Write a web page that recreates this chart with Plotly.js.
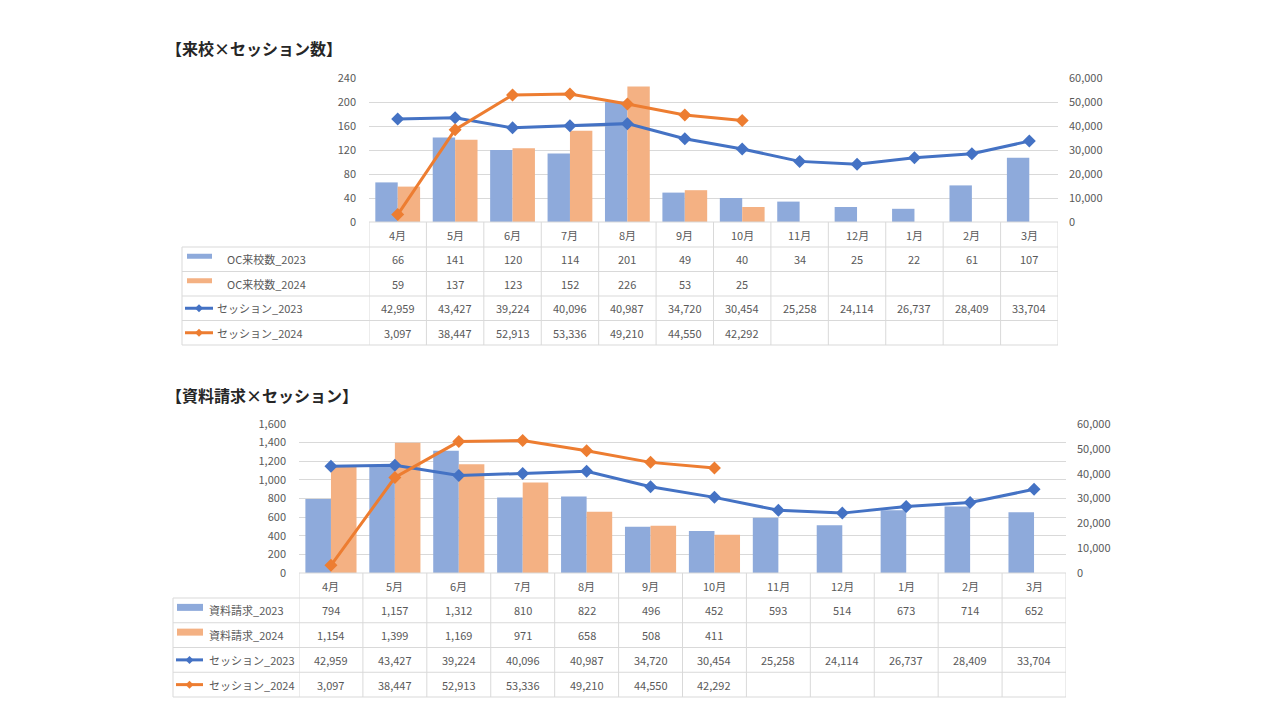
<!DOCTYPE html>
<html>
<head>
<meta charset="utf-8">
<script src="https://cdn.plot.ly/plotly-3.0.1.min.js"></script>
<style>html,body{margin:0;padding:0;background:#fff;}#chart{width:1280px;height:720px;}</style>
</head>
<body>
<div id="chart"></div>
<script>
// ---- data ----
const months = ['4月','5月','6月','7月','8月','9月','10月','11月','12月','1月','2月','3月'];
const oc2023 = [66,141,120,114,201,49,40,34,25,22,61,107];
const oc2024 = [59,137,123,152,226,53,25,null,null,null,null,null];
const session2023 = [42959,43427,39224,40096,40987,34720,30454,25258,24114,26737,28409,33704];
const session2024 = [3097,38447,52913,53336,49210,44550,42292,null,null,null,null,null];
const req2023 = [794,1157,1312,810,822,496,452,593,514,673,714,652];
const req2024 = [1154,1399,1169,971,658,508,411,null,null,null,null,null];
const title1 = '【来校×セッション数】';
const title2 = '【資料請求×セッション】';
const labels1 = ['OC来校数_2023','OC来校数_2024','セッション_2023','セッション_2024'];
const labels2 = ['資料請求_2023','資料請求_2024','セッション_2023','セッション_2024'];

// ---- styles ----
const W = 1280, H = 720;
const px = x => x / W;
const py = y => 1 - y / H;
const FONT = '"Noto Sans CJK JP", "Noto Sans", sans-serif';
const TXT = '#595959';
const GRID = '#d9d9d9';
const BLUE_BAR = '#8eaadb', ORANGE_BAR = '#f4b183';
const BLUE_LINE = '#4472c4', ORANGE_LINE = '#ed7d31';

const charts = [
  {xa:'x', ya:'y', ya2:'y2', xk:'xaxis', yk:'yaxis', yk2:'yaxis2',
   left:369, right:1058, top:78, bottom:222, ymax:240, dtick:40,
   bars:[oc2023, oc2024], lines:[session2023, session2024], labels:labels1,
   barW:0.39, tableLeft:182, rows:[222,247,271.5,296,320.5,345],
   rectX:[187,212], rectH:5, lineX:[185,213], labelX:[225,225,215,215],
   title:title1, titleY:48},
  {xa:'x2', ya:'y3', ya2:'y4', xk:'xaxis2', yk:'yaxis3', yk2:'yaxis4',
   left:299, right:1066, top:424, bottom:573, ymax:1600, dtick:200,
   bars:[req2023, req2024], lines:[session2023, session2024], labels:labels2,
   barW:0.40, tableLeft:173, rows:[573,598,622.75,647.5,672.25,697],
   rectX:[177,203], rectH:7, lineX:[176,203], labelX:[207,207,207,207],
   title:title2, titleY:395}
];

const traces = [];
const layout = {
  width: W, height: H,
  margin: {l:0, r:0, t:0, b:0},
  paper_bgcolor: '#fff', plot_bgcolor: 'rgba(0,0,0,0)',
  showlegend: false,
  barmode: 'overlay',
  font: {family: FONT, color: TXT, size: 11},
  shapes: [], annotations: []
};

const fmt = v => v.toLocaleString('en-US');

charts.forEach(c => {
  // bars
  const barColors = [BLUE_BAR, ORANGE_BAR];
  c.bars.forEach((arr, k) => {
    traces.push({type:'bar', x:months, y:arr, xaxis:c.xa, yaxis:c.ya,
      width:c.barW, offset: k === 0 ? -c.barW : 0,
      marker:{color:barColors[k], line:{width:0}}, hoverinfo:'skip'});
  });
  const lineColors = [BLUE_LINE, ORANGE_LINE];
  c.lines.forEach((arr, k) => {
    traces.push({type:'scatter', mode:'lines+markers', x:months, y:arr,
      xaxis:c.xa, yaxis:c.ya2,
      line:{color:lineColors[k], width:3},
      marker:{symbol:'diamond', size:10, color:lineColors[k]},
      hoverinfo:'skip'});
  });
  const yDom = [py(c.bottom), py(c.top)];
  layout[c.xk] = {domain:[px(c.left), px(c.right)], anchor:c.ya,
    type:'category', range:[-0.5, 11.5], showticklabels:false,
    showgrid:false, zeroline:false, showline:false, fixedrange:true};
  layout[c.yk] = {domain:yDom, anchor:c.xa, range:[0, c.ymax], dtick:c.dtick,
    tickformat:',d', showgrid:true, gridcolor:GRID, gridwidth:1,
    zeroline:false, showline:false, ticks:'', ticklabelstandoff:12,
    tickfont:{family:FONT, size:11, color:TXT}, fixedrange:true};
  layout[c.yk2] = {domain:yDom, anchor:c.xa, overlaying:c.ya, side:'right',
    range:[0, 60000], dtick:10000, tickformat:',d', showgrid:false,
    zeroline:false, showline:false, ticks:'', ticklabelstandoff:10,
    tickfont:{family:FONT, size:11, color:TXT}, fixedrange:true};

  // title
  layout.annotations.push({xref:'paper', yref:'paper', x:px(164), y:py(c.titleY),
    xanchor:'left', yanchor:'middle', showarrow:false, text:'<b>'+c.title+'</b>',
    font:{family:FONT, size:16, color:'#262626'}});

  // table lines
  const L = c.tableLeft, R = c.right, rows = c.rows;
  const ln = (x0,y0,x1,y1) => layout.shapes.push({type:'line', xref:'paper', yref:'paper',
    x0:px(x0), y0:py(y0), x1:px(x1), y1:py(y1), line:{color:GRID, width:1}});
  ln(c.left, rows[0], R, rows[0]);
  for (let r = 1; r < rows.length; r++) ln(L, rows[r], R, rows[r]);
  ln(L, rows[1], L, rows[rows.length-1]);
  for (let i = 0; i <= months.length; i++) {
    layout.shapes.push({type:'line', xref:c.xa, yref:'paper',
      x0:i-0.5, x1:i-0.5, y0:py(rows[0]), y1:py(rows[rows.length-1]),
      line:{color:GRID, width:1}});
  }
  const center = r => (rows[r] + rows[r+1]) / 2;
  // header months
  months.forEach(m => layout.annotations.push({xref:c.xa, yref:'paper', x:m, y:py(center(0)),
    xanchor:'center', yanchor:'middle',
    showarrow:false, text:m, font:{family:FONT, size:11, color:TXT}}));
  // values
  const series = [c.bars[0], c.bars[1], c.lines[0], c.lines[1]];
  series.forEach((arr, r) => {
    arr.forEach((v, i) => {
      if (v === null) return;
      layout.annotations.push({xref:c.xa, yref:'paper', x:months[i], y:py(center(r+1)),
        xanchor:'center', yanchor:'middle',
        showarrow:false, text:fmt(v), font:{family:FONT, size:11, color:TXT}});
    });
    layout.annotations.push({xref:'paper', yref:'paper', x:px(c.labelX[r]), y:py(center(r+1)),
      xanchor:'left', yanchor:'middle', showarrow:false, text:c.labels[r],
      font:{family:FONT, size:11, color:TXT}});
  });
  // legend keys
  [BLUE_BAR, ORANGE_BAR].forEach((col, k) => {
    const cy = center(k+1) - 3;
    layout.shapes.push({type:'rect', xref:'paper', yref:'paper',
      x0:px(c.rectX[0]), x1:px(c.rectX[1]), y0:py(cy + c.rectH/2), y1:py(cy - c.rectH/2),
      fillcolor:col, line:{width:0}});
  });
  [BLUE_LINE, ORANGE_LINE].forEach((col, k) => {
    const cy = center(k+3);
    layout.shapes.push({type:'line', xref:'paper', yref:'paper',
      x0:px(c.lineX[0]), x1:px(c.lineX[1]), y0:py(cy), y1:py(cy), line:{color:col, width:3}});
    const cx = (c.lineX[0] + c.lineX[1]) / 2, s = 4;
    layout.shapes.push({type:'path', xref:'paper', yref:'paper',
      path:`M ${px(cx)} ${py(cy-s)} L ${px(cx+s)} ${py(cy)} L ${px(cx)} ${py(cy+s)} L ${px(cx-s)} ${py(cy)} Z`,
      fillcolor:col, line:{color:col, width:0}});
  });
});

Plotly.newPlot('chart', traces, layout, {displayModeBar:false, staticPlot:true});
</script>
</body>
</html>
